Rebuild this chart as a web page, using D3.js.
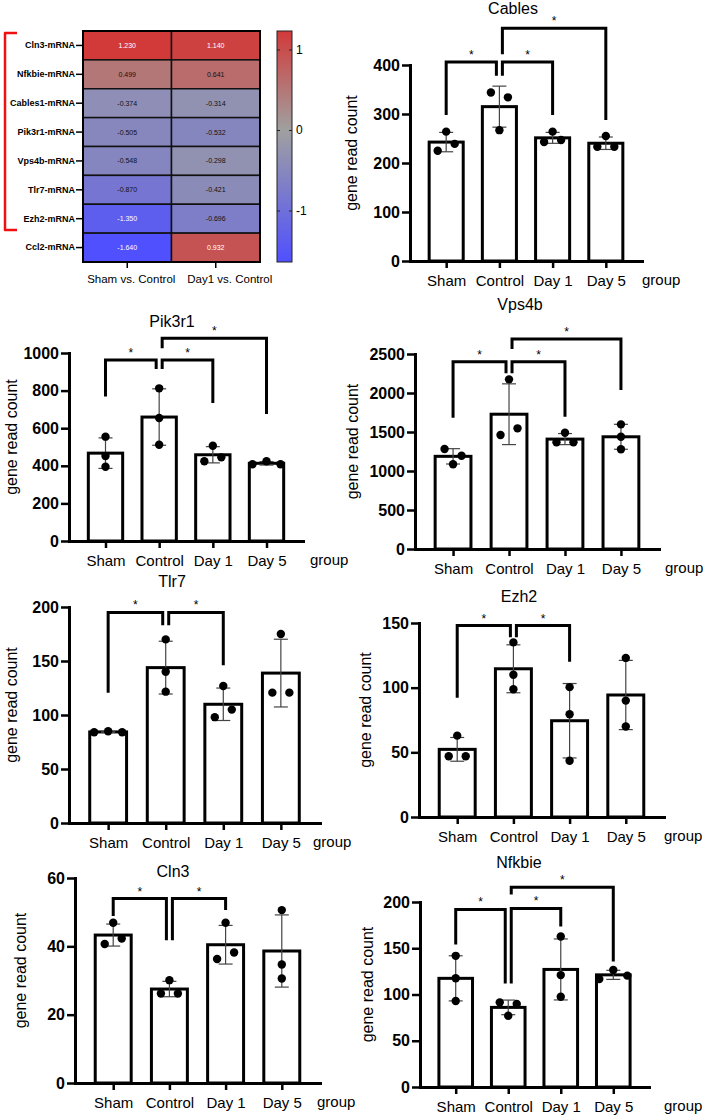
<!DOCTYPE html>
<html>
<head>
<meta charset="UTF-8">
<style>
  html, body { margin: 0; padding: 0; background: #fff; }
  svg { display: block; }
  text { font-family: "Liberation Sans", Arial, sans-serif; }
</style>
<script src="https://d3js.org/d3.v7.min.js"></script>
</head>
<body>
<div id="viz"></div>
<script>
// ---- heatmap data ----
const genes = ["Cln3-mRNA", "Nfkbie-mRNA", "Cables1-mRNA", "Pik3r1-mRNA",
               "Vps4b-mRNA", "Tlr7-mRNA", "Ezh2-mRNA", "Ccl2-mRNA"];
const contrasts = ["Sham vs. Control", "Day1 vs. Control"];
const shamVsControl = [1.230, 0.499, -0.374, -0.505, -0.548, -0.870, -1.350, -1.640];
const day1VsControl = [1.140, 0.641, -0.314, -0.532, -0.298, -0.421, -0.696, 0.932];
const colorTicks = [-1, 0, 1];

// ---- bar chart data: three replicates per group ----
const groups = ["Sham", "Control", "Day 1", "Day 5"];

const cables = [[225, 239, 264], [344, 334, 267], [243, 247, 264], [233, 233, 255]];
const pik3r1 = [[555, 452, 395], [812, 654, 512], [424, 445, 507], [408, 424, 408]];
const vps4b  = [[1282, 1196, 1086], [2175, 1462, 1547], [1368, 1491, 1368], [1598, 1440, 1278]];
const tlr7   = [[84, 85, 84], [170, 140, 121.6], [98, 105, 126.8], [120.7, 175, 120.7]];
const ezh2   = [[47, 62.9, 47], [135, 110, 98.8], [100.4, 79.4, 43.5], [123, 90, 70]];
const cln3   = [[40.7, 42.3, 46.9], [26.2, 30.1, 26.2], [36.3, 38.2, 46.9], [50.6, 34.7, 30.6]];
const nfkbie = [[141.8, 117.6, 93], [91.5, 89.7, 77], [162.7, 121, 97.6], [116.8, 126.5, 120.4]];

// significance brackets: [groupA, groupB, bracket level, end of leg A, end of leg B]
const cablesSig = [[0, 1, 406, 298, 378], [1, 2, 406, 378, 298], [1, 3, 475, 422, 288]];
const pik3r1Sig = [[0, 1, 963, 768, 915], [1, 2, 963, 915, 734], [1, 3, 1078, 1025, 675]];
const vps4bSig  = [[0, 1, 2401, 1683, 2252], [1, 2, 2401, 2252, 1696], [1, 3, 2692, 2564, 2038]];
const tlr7Sig   = [[0, 1, 195, 120.7, 183], [1, 2, 195, 183, 146]];
const ezh2Sig   = [[0, 1, 148, 92.3, 139], [1, 2, 148, 139, 120]];
const cln3Sig   = [[0, 1, 54, 48.9, 41.8], [1, 2, 54, 41.8, 50.6]];
const nfkbieSig = [[0, 1, 192, 154, 112], [1, 2, 193, 112, 173.5], [1, 3, 216, 208, 135.6]];

// panel layout
const panels = [
  {title: "Cables", reps: cables, sig: cablesSig, max: 400, step: 100,
   x0: 410, x1: 642, y0: 261, y1: 65, tx: 513, ty: 14, lx: 357, gx: 642},
  {title: "Pik3r1", reps: pik3r1, sig: pik3r1Sig, max: 1000, step: 200,
   x0: 69, x1: 303, y0: 541, y1: 353, tx: 172, ty: 327, lx: 17, gx: 310},
  {title: "Vps4b", reps: vps4b, sig: vps4bSig, max: 2500, step: 500,
   x0: 415, x1: 659, y0: 549, y1: 354, tx: 520, ty: 310, lx: 358, gx: 665},
  {title: "Tlr7", reps: tlr7, sig: tlr7Sig, max: 200, step: 50,
   x0: 69, x1: 320, y0: 823, y1: 607, tx: 172, ty: 587, lx: 17, gx: 313},
  {title: "Ezh2", reps: ezh2, sig: ezh2Sig, max: 150, step: 50,
   x0: 419, x1: 664, y0: 817, y1: 623, tx: 519, ty: 602, lx: 371, gx: 664},
  {title: "Cln3", reps: cln3, sig: cln3Sig, max: 60, step: 20,
   x0: 75, x1: 320, y0: 1083, y1: 878, tx: 173, ty: 877, lx: 26, gx: 317},
  {title: "Nfkbie", reps: nfkbie, sig: nfkbieSig, max: 200, step: 50,
   x0: 420, x1: 649, y0: 1087, y1: 902, tx: 519, ty: 868, lx: 373, gx: 664}
];

const svg = d3.select("#viz").append("svg")
    .attr("width", 705)
    .attr("height", 1117);

svg.append("rect").attr("width", 705).attr("height", 1117).attr("fill", "#fff");

// ================= heatmap =================
function heatmap() {
  const g = svg.append("g");
  const hx = d3.scaleBand().domain(contrasts).range([83, 260]);
  const hy = d3.scaleBand().domain(genes).range([31, 262]);
  const color = d3.scaleLinear()
      .domain([-1.64, 0, 1.23])
      .range(["#5050ff", "#a0a0a0", "#d23a3a"]);

  const cells = [];
  genes.forEach((gene, i) => {
    cells.push({gene, col: contrasts[0], v: shamVsControl[i]});
    cells.push({gene, col: contrasts[1], v: day1VsControl[i]});
  });

  g.selectAll("rect.cell").data(cells).join("rect")
      .attr("class", "cell")
      .attr("x", d => hx(d.col))
      .attr("y", d => hy(d.gene))
      .attr("width", hx.bandwidth())
      .attr("height", hy.bandwidth())
      .attr("fill", d => color(d.v))
      .attr("stroke", "#111")
      .attr("stroke-width", 1.5);

  g.selectAll("text.val").data(cells).join("text")
      .attr("class", "val")
      .attr("x", d => hx(d.col) + hx.bandwidth() / 2)
      .attr("y", d => hy(d.gene) + hy.bandwidth() / 2)
      .attr("dy", "0.35em")
      .attr("text-anchor", "middle")
      .attr("font-size", 7)
      .attr("fill", d => Math.abs(d.v) > 0.9 ? "#fff" : "#111")
      .text(d => d.v.toFixed(3));

  g.append("rect")
      .attr("x", 83).attr("y", 31).attr("width", 177).attr("height", 231)
      .attr("fill", "none").attr("stroke", "#000").attr("stroke-width", 2);

  // row labels
  const ay = g.append("g").attr("transform", "translate(83,0)")
      .call(d3.axisLeft(hy).tickSize(7).tickPadding(1));
  ay.select(".domain").remove();
  ay.selectAll("line").attr("stroke-width", 1.5);
  ay.selectAll("text").attr("font-size", 9).attr("font-weight", "bold")
      .attr("font-family", "Liberation Sans, Arial, sans-serif").attr("fill", "#000");

  // column labels
  const ax = g.append("g").attr("transform", "translate(0,262)")
      .call(d3.axisBottom(hx).tickSize(6).tickPadding(7));
  ax.select(".domain").remove();
  ax.selectAll("line").attr("stroke-width", 1.5);
  ax.selectAll("text").attr("font-size", 11.5).attr("dx", (d, i) => i ? 14 : 4)
      .attr("font-family", "Liberation Sans, Arial, sans-serif").attr("fill", "#000");

  // colour bar
  const cy = d3.scaleLinear().domain([-1.64, 1.23]).range([262, 31]);
  const grad = svg.append("defs").append("linearGradient")
      .attr("id", "cbar").attr("x1", 0).attr("y1", 1).attr("x2", 0).attr("y2", 0);
  grad.selectAll("stop").data(color.domain()).join("stop")
      .attr("offset", d => (d + 1.64) / (1.23 + 1.64))
      .attr("stop-color", d => color(d));
  g.append("rect")
      .attr("x", 277).attr("y", 31).attr("width", 15).attr("height", 231)
      .attr("fill", "url(#cbar)").attr("stroke", "#222").attr("stroke-width", 1);
  const cr = g.append("g").attr("transform", "translate(292,0)")
      .call(d3.axisRight(cy).tickValues(colorTicks).tickSize(-3).tickPadding(4)
        .tickFormat(d => String(d)));
  cr.select(".domain").remove();
  cr.selectAll("line").attr("stroke", "#222");
  cr.selectAll("text").attr("font-size", 12).attr("fill", "#000")
      .attr("font-family", "Liberation Sans, Arial, sans-serif");
  const cl = g.append("g").attr("transform", "translate(277,0)")
      .call(d3.axisLeft(cy).tickValues(colorTicks).tickSize(-3).tickFormat(""));
  cl.select(".domain").remove();
  cl.selectAll("line").attr("stroke", "#222");

  // red bracket around the first seven genes
  g.append("path")
      .attr("d", "M17,33 H5 V230 H17")
      .attr("fill", "none").attr("stroke", "#f01010").attr("stroke-width", 2.5)
      .attr("stroke-linejoin", "round");
}

// side-by-side placement for replicates that overlap vertically
function spread(vals, y) {
  const order = d3.range(vals.length).sort((a, b) => vals[a] - vals[b]);
  const off = vals.map(() => 0);
  let cluster = [order[0]];
  const flush = () => {
    cluster.sort((a, b) => a - b);
    const n = cluster.length, gap = n === 2 ? 17 : 14;
    cluster.forEach((k, j) => off[k] = (j - (n - 1) / 2) * gap);
  };
  for (let i = 1; i < order.length; i++) {
    if (Math.abs(y(vals[order[i]]) - y(vals[order[i - 1]])) < 8) cluster.push(order[i]);
    else { flush(); cluster = [order[i]]; }
  }
  flush();
  return off;
}

// ================= bar panels =================
function barPanel(p) {
  const g = svg.append("g");
  const x = d3.scalePoint().domain(groups).range([p.x0, p.x1]).padding(0.68);
  const y = d3.scaleLinear().domain([0, p.max]).range([p.y0, p.y1]);
  const bw = x.step() * 0.64;

  const rows = groups.map((name, i) => ({
    name, vals: p.reps[i],
    mean: d3.mean(p.reps[i]),
    sd: d3.deviation(p.reps[i])
  }));

  g.selectAll("rect.bar").data(rows).join("rect")
      .attr("class", "bar")
      .attr("x", d => x(d.name) - bw / 2)
      .attr("y", d => y(d.mean))
      .attr("width", bw)
      .attr("height", d => y(0) - y(d.mean))
      .attr("fill", "#fff").attr("stroke", "#000").attr("stroke-width", 3);

  // error bars (mean ± SD)
  const err = g.selectAll("g.err").data(rows).join("g").attr("class", "err")
      .attr("stroke", "#444").attr("stroke-width", 1.2);
  err.append("line")
      .attr("x1", d => x(d.name)).attr("x2", d => x(d.name))
      .attr("y1", d => y(d.mean - d.sd)).attr("y2", d => y(d.mean + d.sd));
  err.append("line")
      .attr("x1", d => x(d.name) - 7).attr("x2", d => x(d.name) + 7)
      .attr("y1", d => y(d.mean + d.sd)).attr("y2", d => y(d.mean + d.sd));
  err.append("line")
      .attr("x1", d => x(d.name) - 7).attr("x2", d => x(d.name) + 7)
      .attr("y1", d => y(d.mean - d.sd)).attr("y2", d => y(d.mean - d.sd));

  // replicate dots
  const dots = [];
  rows.forEach(r => {
    const off = spread(r.vals, y);
    r.vals.forEach((v, k) => dots.push({name: r.name, v, dx: off[k]}));
  });
  g.selectAll("circle").data(dots).join("circle")
      .attr("cx", d => x(d.name) + d.dx)
      .attr("cy", d => y(d.v))
      .attr("r", 4.2)
      .attr("fill", "#000");

  // axes
  const ay = g.append("g").attr("transform", `translate(${p.x0},0)`)
      .call(d3.axisLeft(y).tickValues(d3.range(0, p.max + 1, p.step))
        .tickSize(8).tickPadding(2).tickSizeOuter(0).tickFormat(d3.format("d")));
  ay.select(".domain").attr("stroke-width", 3).attr("stroke-linecap", "square");
  ay.selectAll("line").attr("stroke-width", 2.5);
  ay.selectAll("text").attr("font-size", 16).attr("font-weight", "bold").attr("fill", "#000")
      .attr("font-family", "Liberation Sans, Arial, sans-serif");

  const ax = g.append("g").attr("transform", `translate(0,${p.y0})`)
      .call(d3.axisBottom(x).tickSize(7).tickPadding(7).tickSizeOuter(0));
  ax.select(".domain").attr("stroke-width", 3).attr("stroke-linecap", "square");
  ax.selectAll("line").attr("stroke-width", 2.5);
  ax.selectAll("text").attr("font-size", 15).attr("fill", "#000")
      .attr("font-family", "Liberation Sans, Arial, sans-serif");

  // significance brackets
  const legX = (i, other) => {
    let xx = x(groups[i]);
    if (i === 1 && other === 0) xx -= 3;
    if (i === 1 && other > 1) xx += 3;
    return xx;
  };
  p.sig.forEach(([a, b, top, la, lb]) => {
    const xa = legX(a, b), xb = legX(b, a);
    g.append("path")
        .attr("d", `M${xa},${y(la)} V${y(top)} H${xb} V${y(lb)}`)
        .attr("fill", "none").attr("stroke", "#000").attr("stroke-width", 3);
    g.append("text")
        .attr("x", (xa + xb) / 2).attr("y", y(top) - 3)
        .attr("text-anchor", "middle").attr("font-size", 12)
        .text("*");
  });

  // labels
  g.append("text").attr("x", p.tx).attr("y", p.ty)
      .attr("text-anchor", "middle").attr("font-size", 16).text(p.title);
  g.append("text").attr("x", p.gx).attr("y", p.y0 + 24)
      .attr("font-size", 15).text("group");
  g.append("text")
      .attr("transform", `translate(${p.lx},${(p.y0 + p.y1) / 2 - 10}) rotate(-90)`)
      .attr("text-anchor", "middle").attr("font-size", 16).text("gene read count");
}

heatmap();
panels.forEach(barPanel);
</script>
</body>
</html>
